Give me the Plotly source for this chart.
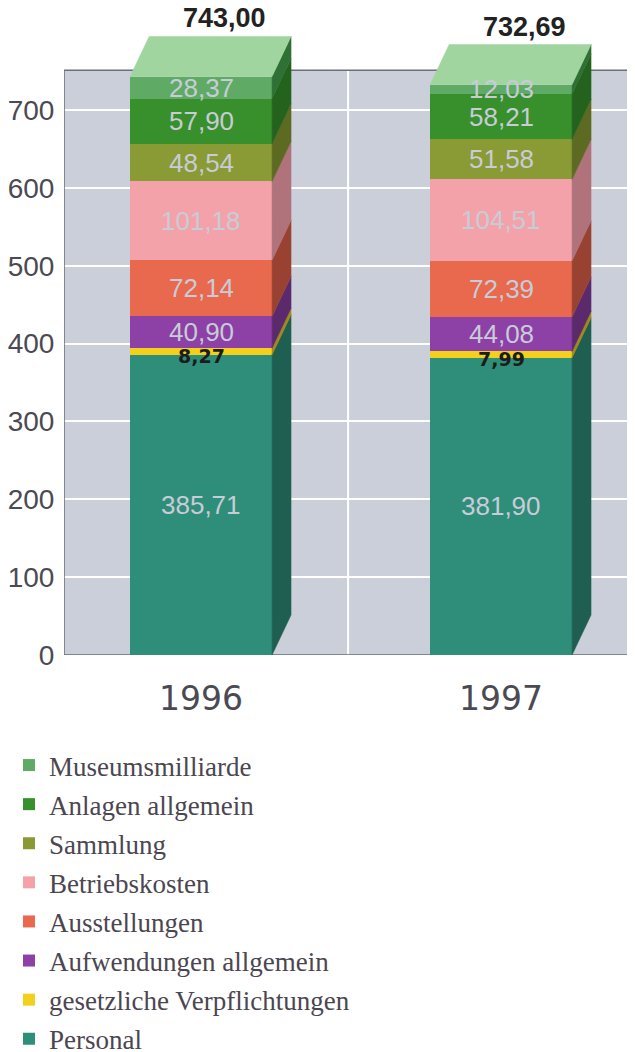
import plotly.graph_objects as go

# ---------------- data ----------------
years = ["1996", "1997"]
series_names = [
    "Personal",
    "gesetzliche Verpflichtungen",
    "Aufwendungen allgemein",
    "Ausstellungen",
    "Betriebskosten",
    "Sammlung",
    "Anlagen allgemein",
    "Museumsmilliarde",
]
personal = [385.71, 381.90]
gesetzliche = [8.27, 7.99]
aufwendungen = [40.90, 44.08]
ausstellungen = [72.14, 72.39]
betriebskosten = [101.18, 104.51]
sammlung = [48.54, 51.58]
anlagen = [57.90, 58.21]
museumsmilliarde = [28.37, 12.03]
totals = [743.00, 732.69]
y_ticks = [0, 100, 200, 300, 400, 500, 600, 700]

series_values = [personal, gesetzliche, aufwendungen, ausstellungen,
                 betriebskosten, sammlung, anlagen, museumsmilliarde]

# ---------------- style ----------------
front_colors = ["#2f8e7a", "#f2d01c", "#8d40a6", "#e8694e",
                "#f4a2aa", "#8a9a34", "#37902c", "#5fab66"]
side_colors = ["#1f5f51", "#a48a12", "#5b2a6c", "#9a4232",
               "#b0737b", "#5d6a22", "#24631d", "#2f7034"]
top_color = "#a0d5a0"

W, H = 627, 1044
BAR_W = 0.473
DX = 0.0633
DY = 51.4
XR = [-0.457, 1.423]
YR = [0, 831]
PLOT_TOP = 751
xs = list(range(len(years)))

def fmt(v):
    return f"{v:.2f}".replace(".", ",")

fig = go.Figure()

n = len(series_names)
# front faces
for k, (name, vals) in enumerate(zip(series_names, series_values)):
    fig.add_trace(go.Bar(
        x=xs, y=vals, name=name, width=BAR_W,
        marker=dict(color=front_colors[k], line=dict(width=0)),
        legendgroup=name, legendrank=n - k, showlegend=True, hoverinfo="skip",
    ))

# side faces and top faces computed from cumulative values
for i in xs:
    base = 0.0
    xr = i + BAR_W / 2
    xl = i - BAR_W / 2
    for k, vals in enumerate(series_values):
        top = base + vals[i]
        fig.add_trace(go.Scatter(
            x=[xr, xr + DX, xr + DX, xr, xr],
            y=[base, base + DY, top + DY, top, base],
            mode="lines", fill="toself", fillcolor=side_colors[k],
            line=dict(color=side_colors[k], width=0.5),
            showlegend=False, hoverinfo="skip",
        ))
        base = top
    fig.add_trace(go.Scatter(
        x=[xl, xl + DX, xr + DX, xr, xl],
        y=[base, base + DY, base + DY, base, base],
        mode="lines", fill="toself", fillcolor=top_color,
        line=dict(color=top_color, width=0.5),
        showlegend=False, hoverinfo="skip",
    ))

annotations = []
for i in xs:
    base = 0.0
    for k, vals in enumerate(series_values):
        v = vals[i]
        if k == 1:
            annotations.append(dict(
                x=i, y=base, xref="x", yref="y", text="<b>" + fmt(v) + "</b>",
                showarrow=False, yanchor="middle", yshift=-1,
                font=dict(family="DejaVu Sans", size=19, color="#1c1c1c"),
            ))
        else:
            annotations.append(dict(
                x=i, y=base + v / 2, xref="x", yref="y", text=fmt(v),
                showarrow=False, yanchor="middle",
                font=dict(family="Liberation Sans", size=26, color="#c8ccd6"),
            ))
        base += v
    annotations.append(dict(
        x=i, y=totals[i] + DY, xref="x", yref="y", text="<b>" + fmt(totals[i]) + "</b>",
        showarrow=False, yanchor="bottom", xshift=23, yshift=1,
        font=dict(family="Liberation Sans", size=27, color="#222222"),
    ))

shapes = [
    dict(type="rect", xref="x", yref="y", x0=XR[0], x1=XR[1], y0=0, y1=PLOT_TOP,
         fillcolor="#cacfd9", line=dict(width=0), layer="below"),
    dict(type="line", xref="x", yref="y", x0=0.49, x1=0.49, y0=0, y1=PLOT_TOP,
         line=dict(color="#ffffff", width=2), layer="between"),
    dict(type="rect", xref="x", yref="y", x0=XR[0], x1=XR[1], y0=0, y1=PLOT_TOP,
         fillcolor="rgba(0,0,0,0)", line=dict(color="#6b6f7a", width=1.5), layer="between"),
]

fig.update_layout(
    width=W, height=H,
    margin=dict(l=56, r=7, t=0, b=397, autoexpand=False),
    barmode="stack",
    paper_bgcolor="#ffffff", plot_bgcolor="#ffffff",
    showlegend=True,
    legend=dict(
        xref="container", yref="container", x=1 / W, y=1 - 733 / H,
        xanchor="left", yanchor="top",
        traceorder="grouped", tracegroupgap=1,
        font=dict(family="Liberation Serif", size=27, color="#4b4650"),
        bgcolor="rgba(0,0,0,0)",
    ),
    annotations=annotations,
    shapes=shapes,
    xaxis=dict(range=XR, tickvals=xs, ticktext=years, showgrid=False, zeroline=False,
               showline=False, ticks="outside", ticklen=14, tickcolor="rgba(0,0,0,0)",
               tickfont=dict(family="DejaVu Sans", size=33, color="#4b4a52")),
    yaxis=dict(range=YR, tickvals=y_ticks, showgrid=True, gridcolor="#ffffff", gridwidth=2,
               zeroline=False, showline=False, ticks="outside", ticklen=3,
               tickcolor="rgba(0,0,0,0)",
               tickfont=dict(family="Liberation Sans Narrow, Liberation Sans", size=28,
                             color="#4b4a52")),
)

fig.write_html("out.html")
